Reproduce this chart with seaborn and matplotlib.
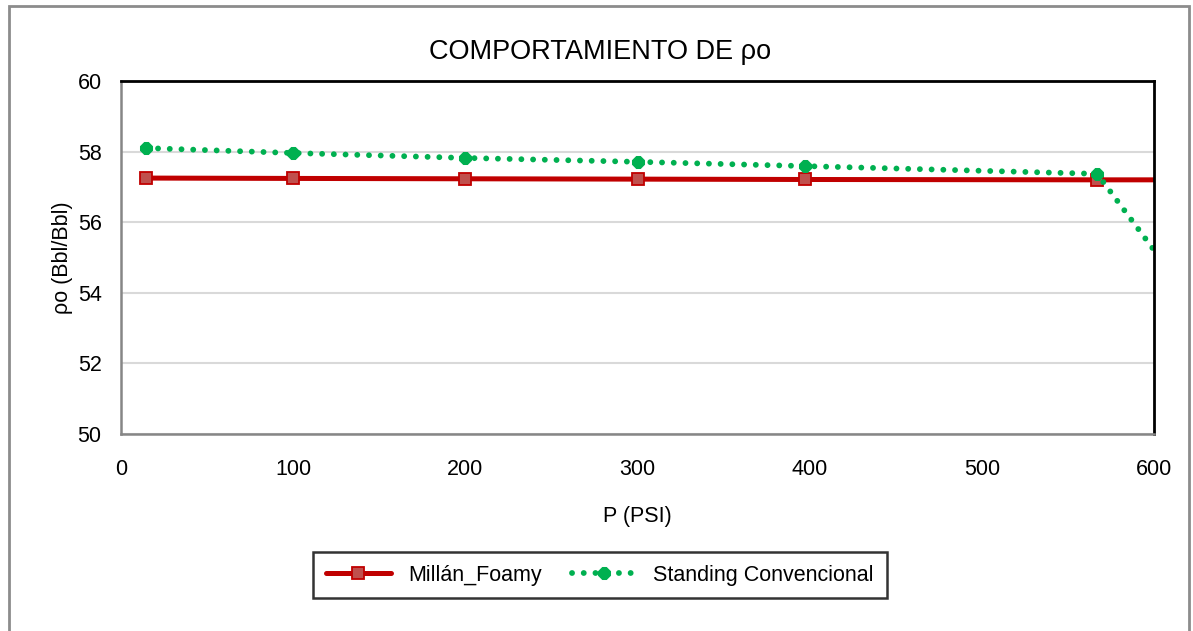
import matplotlib
matplotlib.use("Agg")
import matplotlib.pyplot as plt
import seaborn as sns
import pandas as pd
from matplotlib.patches import Rectangle

sns.set_theme(style="white")
plt.rcParams['font.family'] = ['Liberation Sans', 'DejaVu Sans']
plt.rcParams['text.color'] = 'black'
plt.rcParams['axes.labelcolor'] = 'black'

# Data
p_millan = [14.7, 100, 200, 300, 397, 567, 620]
rho_millan = [57.25, 57.24, 57.23, 57.22, 57.21, 57.20, 57.20]
p_standing = [14.7, 100, 200, 300, 397, 567, 620]
rho_standing = [58.10, 57.96, 57.82, 57.71, 57.59, 57.37, 53.9]
x_ticks = [0, 100, 200, 300, 400, 500, 600]
y_ticks = [50, 52, 54, 56, 58, 60]

df_m = pd.DataFrame({"P": p_millan, "rho": rho_millan})
df_s = pd.DataFrame({"P": p_standing, "rho": rho_standing})

fig = plt.figure(figsize=(11.93, 6.31), dpi=100)
ax = fig.add_axes([121/1193, 1 - 434/631, (1154-121)/1193, (434-81)/631])

n_m = len(p_millan) - 1
n_s = len(p_standing) - 1

sns.lineplot(data=df_m, x="P", y="rho", ax=ax, color="#C00000", linewidth=3.6,
             marker="s", markersize=9, markerfacecolor="#C0504D",
             markeredgecolor="#C00000", markeredgewidth=1.3,
             markevery=list(range(n_m)), label="Millán_Foamy", sort=False)
sns.lineplot(data=df_s, x="P", y="rho", ax=ax, color="#00B050", linewidth=4.2,
             linestyle=(0, (0.01, 2.0)),
             marker="8", markersize=9, markerfacecolor="#00B050",
             markeredgecolor="#00B050", markevery=list(range(n_s)),
             label="Standing Convencional", sort=False)
for l in ax.get_lines():
    l.set_dash_capstyle("round")
    l.set_solid_capstyle("round")

ax.set_xlim(0, 600)
ax.set_ylim(50, 60)
ax.set_xticks(x_ticks)
ax.set_yticks(y_ticks)
ax.tick_params(axis="both", labelsize=15.5, length=0, colors="#000000")
ax.tick_params(axis="x", pad=18)
ax.tick_params(axis="y", pad=14)
ax.grid(axis="y", color="#D9D9D9", linewidth=1.5)
ax.set_axisbelow(True)

for side in ["left", "bottom"]:
    ax.spines[side].set_color("#868686")
    ax.spines[side].set_linewidth(1.8)
for side in ["top", "right"]:
    ax.spines[side].set_color("#000000")
    ax.spines[side].set_linewidth(2)

ax.set_xlabel("P (PSI)", fontsize=15.5, labelpad=19, color="black")
ax.set_ylabel("ρo (Bbl/Bbl)", fontsize=15.5, labelpad=3, color="black")
fig.text(600/1193, 1 - 52/631, "COMPORTAMIENTO DE ρo", ha="center", va="center",
         fontsize=19.5, color="black")

leg = ax.legend(loc="center", bbox_to_anchor=(600/1193, 1 - 575/631),
                bbox_transform=fig.transFigure, ncol=2, fontsize=15.5,
                frameon=True, fancybox=False, edgecolor="#000000",
                handlelength=3.0, columnspacing=1.4, borderpad=0.6,
                markerscale=1.0)
leg.get_frame().set_linewidth(1.8)
for t in leg.get_texts():
    t.set_color("black")

fig.patches.append(Rectangle((8.5/1193, -0.05), (1189-8.5)/1193, 1.05 - 6.5/631,
                             transform=fig.transFigure, fill=False,
                             edgecolor="#8C8C8C", linewidth=2))

fig.savefig("out.png", dpi=100)
